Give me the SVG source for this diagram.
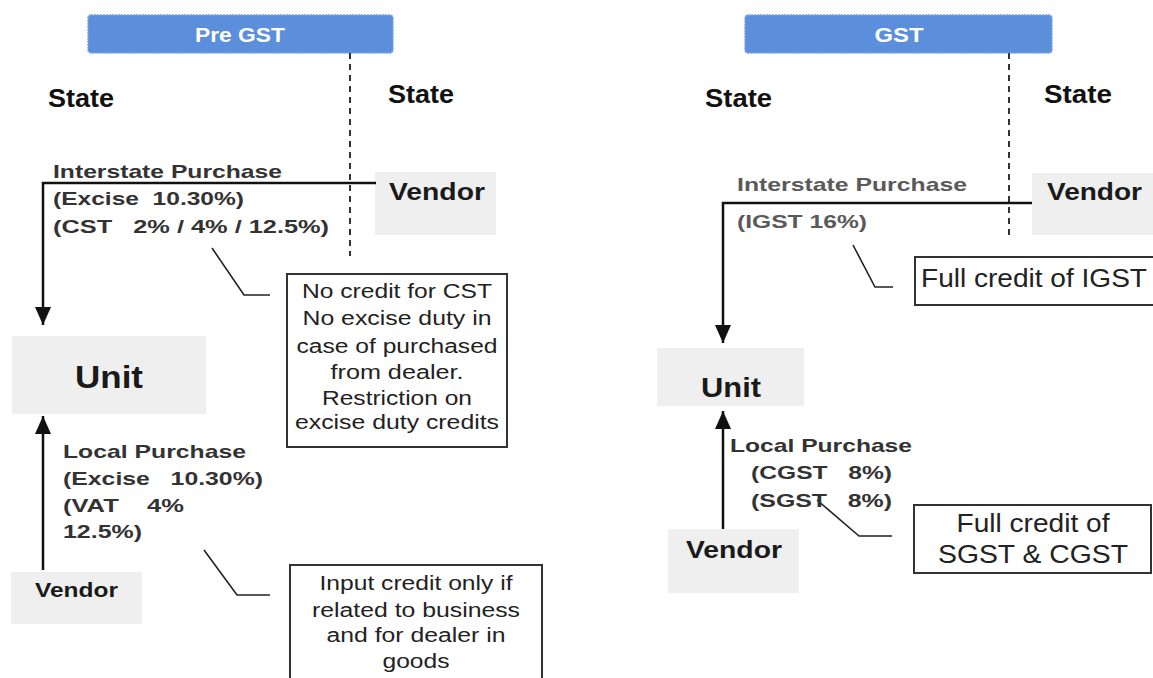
<svg xmlns="http://www.w3.org/2000/svg" width="1153" height="678" viewBox="0 0 1153 678">
<defs>
<marker id="ah" viewBox="0 0 10 10" refX="10" refY="5" markerWidth="18" markerHeight="16" markerUnits="userSpaceOnUse" orient="auto" preserveAspectRatio="none">
<path d="M0,0 L10,5 L0,10 Z" fill="#111"/>
</marker>
<style>
text{font-family:"Liberation Sans",Arial,sans-serif;}
.hdr{fill:#5b8edb;stroke:#7aa3e2;stroke-width:1.5;stroke-dasharray:2,1}
.hdrt{fill:#fff;font-weight:bold;font-size:21px;text-anchor:middle}
.state{font-weight:bold;font-size:26px;fill:#111}
.gbox{fill:#efefef}
.vend{font-weight:bold;font-size:24px;fill:#1a1a1a}
.unit{font-weight:bold;fill:#1a1a1a;text-anchor:middle}
.lbl{font-weight:bold;font-size:19px;fill:#333}
.lblg{font-weight:bold;font-size:19px;fill:#5a5a5a}
.note{fill:#fff;stroke:#333;stroke-width:2}
.nt{font-size:20px;fill:#222;text-anchor:middle}
.nb{font-size:25px;fill:#222}
.conn{stroke:#111;stroke-width:2.5;fill:none}
.call{stroke:#222;stroke-width:1.6;fill:none}
.dash{stroke:#333;stroke-width:2;stroke-dasharray:6,5;fill:none}
</style>
</defs>
<rect width="1153" height="678" fill="#fff"/>

<g id="pre-gst-header">
<rect class="hdr" x="88" y="15" width="305" height="38" rx="3"/>
<text class="hdrt" x="240" y="42" textLength="90" lengthAdjust="spacingAndGlyphs">Pre GST</text>
</g>
<g id="gst-header">
<rect class="hdr" x="745" y="15" width="307" height="38" rx="3"/>
<text class="hdrt" x="899" y="42" textLength="49" lengthAdjust="spacingAndGlyphs">GST</text>
</g>

<g id="labels-states">
<text class="state" x="48" y="107" textLength="66" lengthAdjust="spacingAndGlyphs">State</text>
<text class="state" x="388" y="103" textLength="66" lengthAdjust="spacingAndGlyphs">State</text>
<text class="state" x="705" y="107" textLength="67" lengthAdjust="spacingAndGlyphs">State</text>
<text class="state" x="1044" y="103" textLength="68" lengthAdjust="spacingAndGlyphs">State</text>
</g>

<g id="pre-vendor-interstate">
<rect class="gbox" x="375" y="172" width="121" height="63"/>
<text class="vend" x="389" y="200" textLength="96" lengthAdjust="spacingAndGlyphs">Vendor</text>
</g>
<g id="pre-unit">
<rect class="gbox" x="12" y="336" width="194" height="78"/>
<text class="unit" x="109" y="388" style="font-size:32px" textLength="68" lengthAdjust="spacingAndGlyphs">Unit</text>
</g>
<g id="pre-vendor-local">
<rect class="gbox" x="11" y="572" width="131" height="52"/>
<text class="vend" x="35" y="597" style="font-size:21px" textLength="83" lengthAdjust="spacingAndGlyphs">Vendor</text>
</g>

<g id="gst-vendor-interstate">
<rect class="gbox" x="1032" y="173" width="121" height="62"/>
<text class="vend" x="1047" y="200" textLength="95" lengthAdjust="spacingAndGlyphs">Vendor</text>
</g>
<g id="gst-unit">
<rect class="gbox" x="657" y="348" width="147" height="58"/>
<text class="unit" x="731" y="397" style="font-size:28px" textLength="60" lengthAdjust="spacingAndGlyphs">Unit</text>
</g>
<g id="gst-vendor-local">
<rect class="gbox" x="668" y="529" width="131" height="64"/>
<text class="vend" x="686" y="558" textLength="96" lengthAdjust="spacingAndGlyphs">Vendor</text>
</g>

<g id="connectors">
<line class="dash" x1="350" y1="53" x2="350" y2="256"/>
<line class="dash" x1="1009" y1="53" x2="1009" y2="236"/>
<polyline class="conn" points="376,183 43,183 43,325" marker-end="url(#ah)"/>
<line class="conn" x1="43" y1="570" x2="43" y2="416" marker-end="url(#ah)"/>
<polyline class="conn" points="1032,203 723,203 723,343" marker-end="url(#ah)"/>
<line class="conn" x1="723" y1="529" x2="723" y2="411" marker-end="url(#ah)"/>
<polyline class="call" points="212,248 244,295 270,295"/>
<polyline class="call" points="204,550 237,595 270,595"/>
<polyline class="call" points="853,245 875,287 893,287"/>
<polyline class="call" points="817,500 859,536 892,536"/>
</g>

<g id="pre-interstate-label">
<text class="lbl" x="53" y="178" textLength="229" lengthAdjust="spacingAndGlyphs">Interstate Purchase</text>
<text class="lbl" x="53" y="205" textLength="191" lengthAdjust="spacingAndGlyphs" xml:space="preserve">(Excise  10.30%)</text>
<text class="lbl" x="53" y="233" textLength="276" lengthAdjust="spacingAndGlyphs" xml:space="preserve">(CST   2% / 4% / 12.5%)</text>
</g>
<g id="pre-local-label">
<text class="lbl" x="63" y="458" textLength="183" lengthAdjust="spacingAndGlyphs">Local Purchase</text>
<text class="lbl" x="63" y="485" textLength="200" lengthAdjust="spacingAndGlyphs" xml:space="preserve">(Excise   10.30%)</text>
<text class="lbl" x="63" y="512" textLength="121" lengthAdjust="spacingAndGlyphs" xml:space="preserve">(VAT    4%</text>
<text class="lbl" x="63" y="538" textLength="79" lengthAdjust="spacingAndGlyphs">12.5%)</text>
</g>
<g id="gst-interstate-label">
<text class="lblg" x="737" y="191" textLength="230" lengthAdjust="spacingAndGlyphs">Interstate Purchase</text>
<text class="lblg" x="737" y="228" textLength="130" lengthAdjust="spacingAndGlyphs">(IGST 16%)</text>
</g>
<g id="gst-local-label">
<text class="lbl" x="730" y="452" textLength="182" lengthAdjust="spacingAndGlyphs">Local Purchase</text>
<text class="lbl" x="751" y="479" textLength="141" lengthAdjust="spacingAndGlyphs" xml:space="preserve">(CGST   8%)</text>
<text class="lbl" x="751" y="507" textLength="141" lengthAdjust="spacingAndGlyphs" xml:space="preserve">(SGST   8%)</text>
</g>

<g id="note-pre-interstate">
<rect class="note" x="287" y="274" width="220" height="173"/>
<text class="nt" x="397" y="298" textLength="190" lengthAdjust="spacingAndGlyphs">No credit for CST</text>
<text class="nt" x="397" y="325" textLength="189" lengthAdjust="spacingAndGlyphs">No excise duty in</text>
<text class="nt" x="397" y="353" textLength="201" lengthAdjust="spacingAndGlyphs">case of purchased</text>
<text class="nt" x="397" y="379" textLength="133" lengthAdjust="spacingAndGlyphs">from dealer.</text>
<text class="nt" x="397" y="405" textLength="150" lengthAdjust="spacingAndGlyphs">Restriction on</text>
<text class="nt" x="397" y="429" textLength="204" lengthAdjust="spacingAndGlyphs">excise duty credits</text>
</g>
<g id="note-pre-local">
<rect class="note" x="290" y="565" width="252" height="120"/>
<text class="nt" x="416" y="590" textLength="193" lengthAdjust="spacingAndGlyphs">Input credit only if</text>
<text class="nt" x="416" y="617" textLength="208" lengthAdjust="spacingAndGlyphs">related to business</text>
<text class="nt" x="416" y="642" textLength="179" lengthAdjust="spacingAndGlyphs">and for dealer in</text>
<text class="nt" x="416" y="668" textLength="67" lengthAdjust="spacingAndGlyphs">goods</text>
</g>
<g id="note-gst-interstate">
<rect class="note" x="915" y="257" width="245" height="48"/>
<text class="nb" x="921" y="287" textLength="226" lengthAdjust="spacingAndGlyphs">Full credit of IGST</text>
</g>
<g id="note-gst-local">
<rect class="note" x="914" y="505" width="237" height="68"/>
<text class="nb" x="1033" y="532" style="text-anchor:middle" textLength="153" lengthAdjust="spacingAndGlyphs">Full credit of</text>
<text class="nb" x="1033" y="563" style="text-anchor:middle" textLength="190" lengthAdjust="spacingAndGlyphs">SGST &amp; CGST</text>
</g>
</svg>
